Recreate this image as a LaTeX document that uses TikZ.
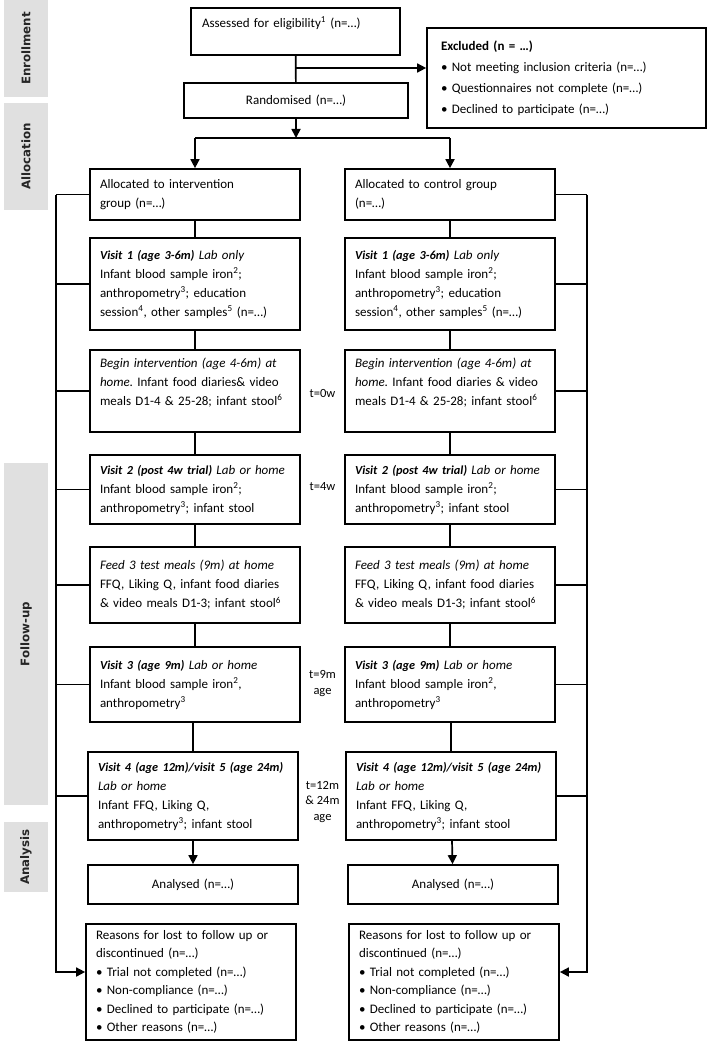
\documentclass[tikz,border=0pt]{standalone}
\usepackage{fontspec}
\setmainfont{Carlito}
\newfontfamily\barfont{DejaVu Sans}
\usetikzlibrary{arrows.meta}
\frenchspacing

\newcommand{\bitext}[1]{{\fontsize{12.3}{19}\selectfont\bfseries\itshape #1}}

\tikzset{
  box/.style={draw, line width=1.7pt, text width=190pt, inner xsep=10pt, inner ysep=0pt, align=left, font=\fontsize{13}{19}\selectfont},
  cbox/.style={box, align=center},
  bar/.style={fill=black!12, rotate=90, minimum height=44pt, inner sep=0pt, text=black!85, font=\barfont\bfseries\fontsize{11.8}{14}\selectfont},
  tlabel/.style={align=center, font=\fontsize{12.5}{15.5}\selectfont},
  arr/.style={-{Triangle[length=9pt,width=9pt]}}
}

\begin{document}
\begin{tikzpicture}[x=1pt, y=-1pt, line width=1.7pt]
\useasboundingbox (0,0) rectangle (709,1046);

% stage bars
\node[bar, minimum width=97pt] (barenrol) at (26,48.5) {Enrollment};
\node[bar, minimum width=107pt] (baralloc) at (26,156.5) {Allocation};
\node[bar, minimum width=342pt] (barfollow) at (26,634) {Follow-up};
\node[bar, minimum width=70pt] (baranal) at (26,857) {Analysis};

% enrolment
\node[box, text width=187pt, inner xsep=11pt, minimum height=47pt] (assess) at (295.5,31.5) {Assessed for eligibility\textsuperscript{1} (n=…)\\\mbox{}};
\node[box, text width=251pt, inner xsep=14pt, minimum height=100pt, font=\fontsize{13}{21}\selectfont] (excl) at (566.5,78) {\textbf{Excluded (n = …)}\\• Not meeting inclusion criteria (n=…)\\• Questionnaires not complete (n=…)\\• Declined to participate (n=…)};
\node[cbox, text width=204pt, minimum height=35pt] (random) at (296,100.5) {Randomised (n=…)};

\coordinate (exc) at (296,68);
\coordinate (split) at (296,138);
\draw (assess) -- (random);
\draw[arr] (exc) -- (excl.west |- exc);

% intervention group
\node[box, minimum height=51pt] (allocint) at (195,194.5) {Allocated to intervention\\group (n=…)};
\node[box, minimum height=92pt] (v1int) at (195,284) {\bitext{Visit 1 (age 3-6m)} \textit{Lab only}\\Infant blood sample iron\textsuperscript{2};\\anthropometry\textsuperscript{3}; education\\session\textsuperscript{4}, other samples\textsuperscript{5} (n=…)};
\node[box, minimum height=82pt] (beginint) at (195,391) {\textit{Begin intervention (age 4-6m) at}\\\textit{home.} Infant food diaries\& video\\meals D1-4 \& 25-28; infant stool\textsuperscript{6}\\\mbox{}};
\node[box, minimum height=69pt] (v2int) at (195,489.5) {\mbox{\bitext{Visit 2 (post 4w trial)} \textit{Lab or home}}\\Infant blood sample iron\textsuperscript{2};\\anthropometry\textsuperscript{3}; infant stool};
\node[box, minimum height=76pt] (feedint) at (195,585) {\textit{Feed 3 test meals (9m) at home}\\FFQ, Liking Q, infant food diaries\\\& video meals D1-3; infant stool\textsuperscript{6}};
\node[box, minimum height=75pt] (v3int) at (195,684.5) {\bitext{Visit 3 (age 9m)} \textit{Lab or home}\\Infant blood sample iron\textsuperscript{2},\\anthropometry\textsuperscript{3}};
\node[box, minimum height=88pt] (v4int) at (193,796) {\mbox{\bitext{Visit 4 (age 12m)/visit 5 (age 24m)}}\\\textit{Lab or home}\\Infant FFQ, Liking Q,\\anthropometry\textsuperscript{3}; infant stool};
\node[cbox, minimum height=39pt] (analint) at (193,884.5) {Analysed (n=…)};
\node[box, minimum height=116pt, font=\fontsize{13}{18.5}\selectfont] (lostint) at (191,982) {Reasons for lost to follow up or\\discontinued (n=…)\\• Trial not completed (n=…)\\• Non-compliance (n=…)\\• Declined to participate (n=…)\\• Other reasons (n=…)};

% control group
\node[box, minimum height=51pt] (alloccon) at (450,194.5) {Allocated to control group\\(n=…)};
\node[box, minimum height=92pt] (v1con) at (450,284) {\bitext{Visit 1 (age 3-6m)} \textit{Lab only}\\Infant blood sample iron\textsuperscript{2};\\anthropometry\textsuperscript{3}; education\\session\textsuperscript{4}, other samples\textsuperscript{5} (n=…)};
\node[box, minimum height=82pt] (begincon) at (450,391) {\textit{Begin intervention (age 4-6m) at}\\\textit{home.} Infant food diaries \& video\\meals D1-4 \& 25-28; infant stool\textsuperscript{6}\\\mbox{}};
\node[box, minimum height=69pt] (v2con) at (450,489.5) {\mbox{\bitext{Visit 2 (post 4w trial)} \textit{Lab or home}}\\Infant blood sample iron\textsuperscript{2};\\anthropometry\textsuperscript{3}; infant stool};
\node[box, minimum height=76pt] (feedcon) at (450,585) {\textit{Feed 3 test meals (9m) at home}\\FFQ, Liking Q, infant food diaries\\\& video meals D1-3; infant stool\textsuperscript{6}};
\node[box, minimum height=75pt] (v3con) at (450,684.5) {\bitext{Visit 3 (age 9m)} \textit{Lab or home}\\Infant blood sample iron\textsuperscript{2},\\anthropometry\textsuperscript{3}};
\node[box, minimum height=88pt] (v4con) at (451,796) {\mbox{\bitext{Visit 4 (age 12m)/visit 5 (age 24m)}}\\\textit{Lab or home}\\Infant FFQ, Liking Q,\\anthropometry\textsuperscript{3}; infant stool};
\node[cbox, minimum height=39pt] (analcon) at (453,884.5) {Analysed (n=…)};
\node[box, minimum height=116pt, font=\fontsize{13}{18.5}\selectfont] (lostcon) at (454,982) {Reasons for lost to follow up or\\discontinued (n=…)\\• Trial not completed (n=…)\\• Non-compliance (n=…)\\• Declined to participate (n=…)\\• Other reasons (n=…)};

% time points
\node[tlabel] (t0) at (322.5,393) {t=0w};
\node[tlabel] (t4) at (322.5,487) {t=4w};
\node[tlabel] (t9) at (322.5,683.5) {t=9m\\age};
\node[tlabel] (t12) at (322.5,802) {t=12m\\\& 24m\\age};

% randomisation split
\draw[arr] (random) -- (split);
\draw (allocint.north |- split) -- (alloccon.north |- split);
\draw[arr] (allocint.north |- split) -- (allocint);
\draw[arr] (alloccon.north |- split) -- (alloccon);

% columns
\draw (allocint) -- (v1int) -- (beginint) -- (v2int) -- (feedint) -- (v3int);
\draw (v3int.south -| v4int) -- (v4int);
\draw[arr] (v4int) -- (analint);
\draw (alloccon) -- (v1con) -- (begincon) -- (v2con) -- (feedcon) -- (v3con);
\draw (v3con.south -| v4con) -- (v4con);
\draw[arr] (v4con) -- (analcon);

% lost to follow up
\coordinate (trunkL) at (56,189);
\coordinate (trunkR) at (587,189);
\coordinate (lostL) at (56,972);
\coordinate (lostR) at (587,972);
\foreach \n in {allocint,v1int,beginint,v2int,feedint,v3int,v4int}
  \draw (\n.west) -- (\n.west -| trunkL);
\foreach \n in {alloccon,v1con,begincon,v2con,feedcon,v3con,v4con}
  \draw (\n.east) -- (\n.east -| trunkR);
\draw[arr] (allocint.west -| trunkL) -- (lostL) -- (lostint.west |- lostL);
\draw[arr] (alloccon.east -| trunkR) -- (lostR) -- (lostcon.east |- lostR);

\end{tikzpicture}
\end{document}
